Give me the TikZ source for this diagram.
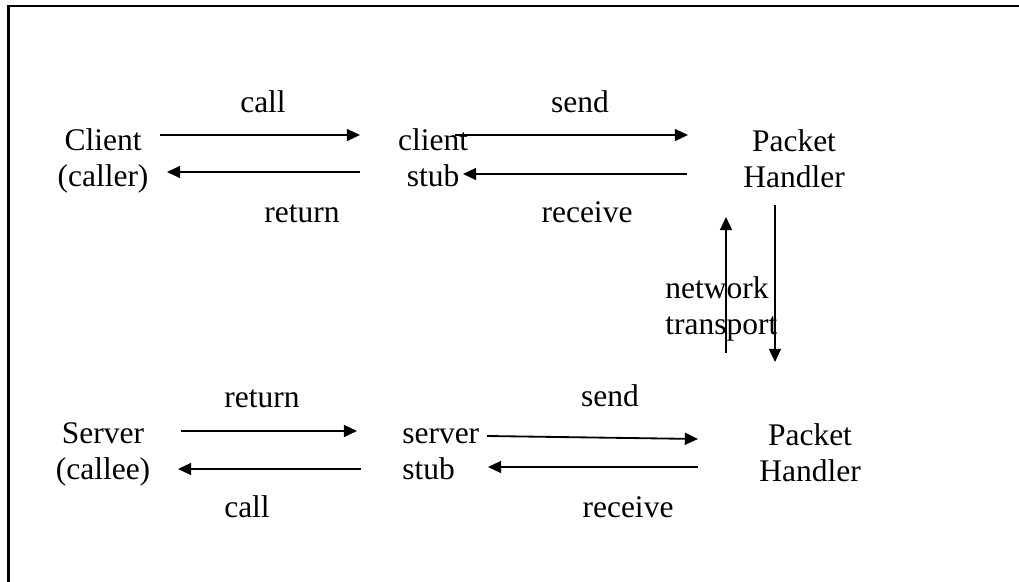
\documentclass[tikz,border=0pt]{standalone}
\usepackage{fontspec}
\setmainfont{Liberation Serif}
\usetikzlibrary{arrows.meta}

\begin{document}
\begin{tikzpicture}[x=0.025cm,y=-0.025cm,
    every node/.style={inner sep=0pt,font=\fontsize{22.4}{26.3}\selectfont},
    party/.style={align=center,anchor=base},
    stubl/.style={align=left,anchor=base west},
    lbl/.style={anchor=base},
    arr/.style={-{Triangle[length=3.3mm,width=3mm]},line width=1.3pt}
  ]
  \useasboundingbox (0,0) rectangle (1019,582);

  % the frame
  \draw[line width=1.9pt] (8.5,582) -- (8.5,6) -- (1019,6);

  % the client side
  \node[party] (client) at (103,187) {Client\\(caller)};
  \node[party] (cstub) at (433,187) {client\\stub};
  \node[party] (cph) at (794,188) {Packet\\Handler};

  % the server side
  \node[party] (server) at (103,480) {Server\\(callee)};
  \node[stubl] (sstub) at (402,480) {server\\stub};
  \node[party] (sph) at (810,482) {Packet\\Handler};

  % the network
  \node[stubl] (net) at (665,335) {network\\transport};

  % the labels
  \node[lbl] (lcall) at (263,113) {call};
  \node[lbl] (lret) at (302,223) {return};
  \node[lbl] (lsend) at (580,113) {send};
  \node[lbl] (lrecv) at (587,223) {receive};
  \node[lbl] (lret2) at (262,408) {return};
  \node[lbl] (lcall2) at (247,518) {call};
  \node[lbl] (lsend2) at (610,407) {send};
  \node[lbl] (lrecv2) at (628,518) {receive};

  % the arrow ends
  \coordinate (callA) at (160,135);   \coordinate (callB) at (360,135);
  \coordinate (retA) at (360,172);    \coordinate (retB) at (167,172);
  \coordinate (sendA) at (455,135);   \coordinate (sendB) at (688,135);
  \coordinate (recvA) at (687,174);   \coordinate (recvB) at (463,174);
  \coordinate (upA) at (726,353);     \coordinate (upB) at (726,217);
  \coordinate (downA) at (775,205);   \coordinate (downB) at (775,362);
  \coordinate (ret2A) at (181,431);   \coordinate (ret2B) at (357,431);
  \coordinate (call2A) at (361,469);  \coordinate (call2B) at (178,469);
  \coordinate (send2A) at (487,436);  \coordinate (send2B) at (698,439);
  \coordinate (recv2A) at (698,467);  \coordinate (recv2B) at (488,467);

  % the edges
  \draw[arr] (callA) -- (callB);
  \draw[arr] (retA) -- (retB);
  \draw[arr] (sendA) -- (sendB);
  \draw[arr] (recvA) -- (recvB);
  \draw[arr] (upA) -- (upB);
  \draw[arr] (downA) -- (downB);
  \draw[arr] (ret2A) -- (ret2B);
  \draw[arr] (call2A) -- (call2B);
  \draw[arr] (send2A) -- (send2B);
  \draw[arr] (recv2A) -- (recv2B);
\end{tikzpicture}
\end{document}
